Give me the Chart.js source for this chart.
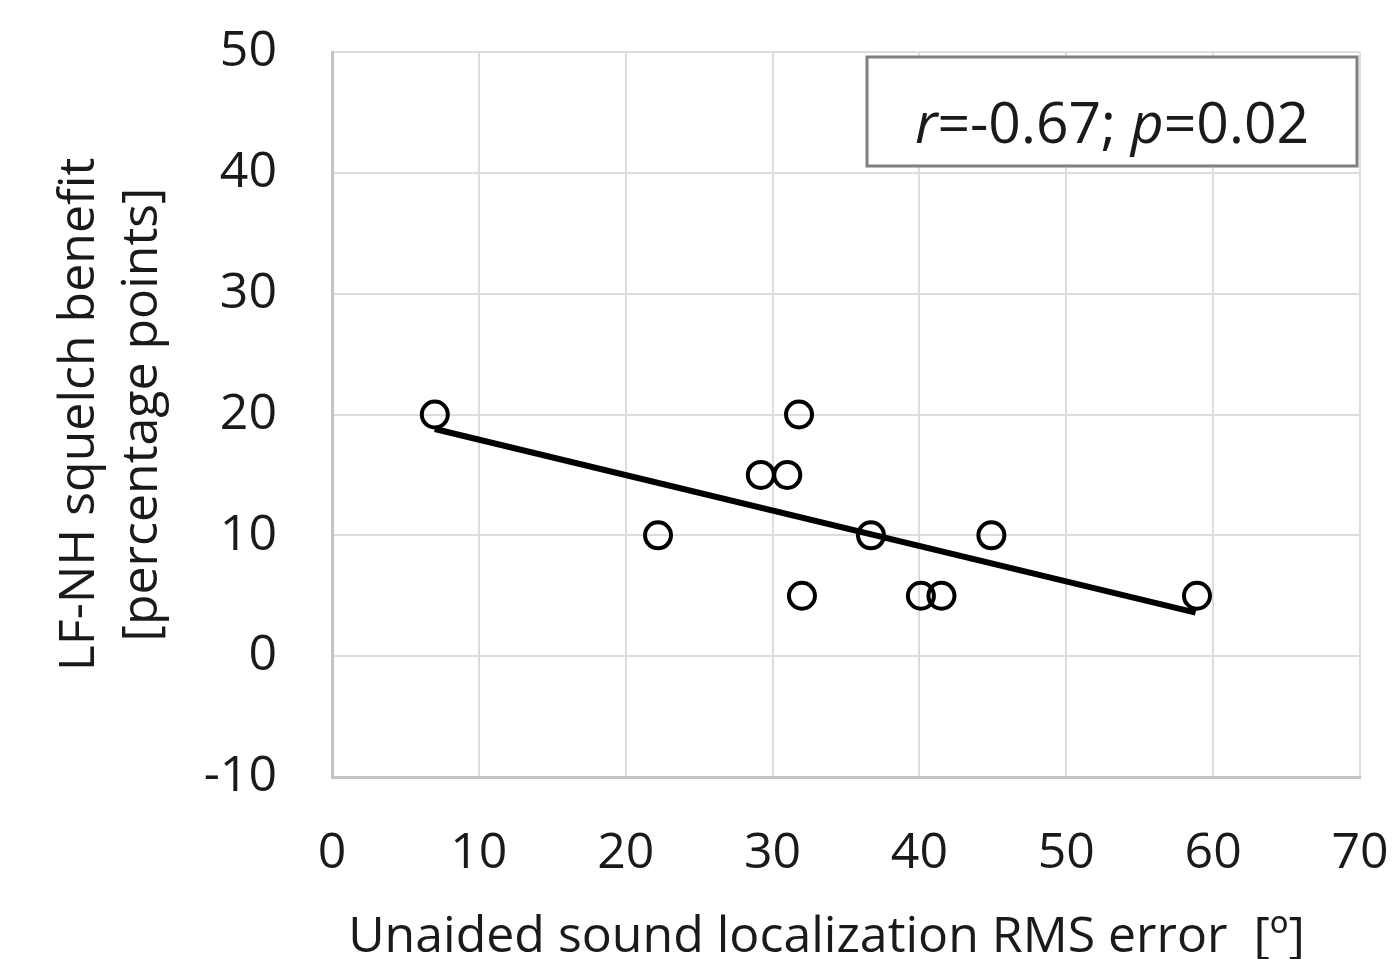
<!DOCTYPE html>
<html>
<head>
<meta charset="utf-8">
<script src="https://cdn.jsdelivr.net/npm/chart.js@4"></script>
<style>
  html, body { margin: 0; padding: 0; background: #fff; }
  #chart { display: block; }
</style>
</head>
<body>
<canvas id="chart" width="1400" height="959"></canvas>
<script>
"use strict";

// Unaided localization RMS error (deg) and LF-NH squelch benefit (pp), one per subject
const locError = [7.0, 22.2, 29.2, 31.0, 31.8, 32.0, 36.7, 40.1, 41.5, 44.9, 58.9];
const squelchBenefit = [20, 10, 15, 15, 20, 5, 10, 5, 5, 10, 5];

// linear fit, end points
const trendX = [7.0, 58.8];
const trendY = [18.8, 3.6];

const xTicks = [0, 10, 20, 30, 40, 50, 60, 70];
const yTicks = [-10, 0, 10, 20, 30, 40, 50];

// trailing no-break spaces push the centred title a bit left, as in the original
const xTitle = "Unaided sound localization RMS error  [º]\u00A0\u00A0\u00A0";
const yTitle = ["LF-NH squelch benefit", "[percentage points]"];
const statParts = [["r", true], ["=-0.67; ", false], ["p", true], ["=0.02", false]];

const FONT = "'Open Sans', 'DejaVu Sans', sans-serif";
const TEXT = "#1a1a1a";

const statsBox = {
  id: "statsBox",
  afterDraw(chart) {
    const ctx = chart.ctx;
    const a = chart.chartArea;
    const x0 = a.right - 493, y0 = a.top + 5, w = 490, h = 109;
    ctx.save();
    ctx.fillStyle = "#fff";
    ctx.fillRect(x0, y0, w, h);
    ctx.strokeStyle = "#7f7f7f";
    ctx.lineWidth = 3;
    ctx.strokeRect(x0, y0, w, h);

    ctx.fillStyle = TEXT;
    ctx.textBaseline = "alphabetic";
    ctx.textAlign = "left";
    let total = 0;
    const widths = statParts.map(([s, it]) => {
      ctx.font = (it ? "italic " : "") + "57px " + FONT;
      const wd = ctx.measureText(s).width;
      total += wd;
      return wd;
    });
    let x = x0 + (w - total) / 2;
    statParts.forEach(([s, it], i) => {
      ctx.font = (it ? "italic " : "") + "57px " + FONT;
      ctx.fillText(s, x, y0 + 86);
      x += widths[i];
    });
    ctx.restore();
  }
};

new Chart(document.getElementById("chart"), {
  type: "scatter",
  data: {
    datasets: [
      {
        label: "fit",
        type: "line",
        data: trendX.map((x, i) => ({ x: x, y: trendY[i] })),
        borderColor: "#000",
        borderWidth: 6,
        pointRadius: 0,
        fill: false,
      },
      {
        label: "subjects",
        data: locError.map((x, i) => ({ x: x, y: squelchBenefit[i] })),
        pointStyle: "circle",
        pointRadius: 13,
        pointBorderWidth: 4,
        pointBackgroundColor: "rgba(255,255,255,0)",
        pointBorderColor: "#000",
      },
    ],
  },
  options: {
    responsive: false,
    animation: false,
    devicePixelRatio: 1,
    layout: { padding: { top: 52, right: 40, left: 0, bottom: 0 } },
    plugins: {
      legend: { display: false },
      tooltip: { enabled: false },
    },
    scales: {
      x: {
        type: "linear",
        min: 0,
        max: 70,
        afterBuildTicks: (s) => { s.ticks = xTicks.map(v => ({ value: v })); },
        afterFit: (s) => { s.height = 182; s.paddingLeft = 0; s.paddingRight = 0; },
        grid: { color: "#dcdcdc", lineWidth: 2, drawTicks: false },
        border: { color: "#c4c4c4", width: 3 },
        ticks: { padding: 47, color: TEXT, font: { family: FONT, size: 50 } },
        title: {
          display: true,
          text: xTitle,
          color: TEXT,
          font: { family: FONT, size: 50, lineHeight: 1.2 },
          padding: { top: 0, bottom: -9 },
        },
      },
      y: {
        type: "linear",
        min: -10,
        max: 50,
        afterBuildTicks: (s) => { s.ticks = yTicks.map(v => ({ value: v })); },
        afterFit: (s) => { s.width = 332; s.paddingTop = 0; s.paddingBottom = 0; },
        grid: { color: "#dcdcdc", lineWidth: 2, drawTicks: false },
        border: { color: "#c4c4c4", width: 3 },
        ticks: { padding: 55, color: TEXT, font: { family: FONT, size: 50 } },
        title: {
          display: true,
          text: yTitle,
          color: TEXT,
          font: { family: FONT, size: 50, lineHeight: 1.26 },
          padding: { top: 48, bottom: 0 },
        },
      },
    },
  },
  plugins: [statsBox],
});
</script>
</body>
</html>
